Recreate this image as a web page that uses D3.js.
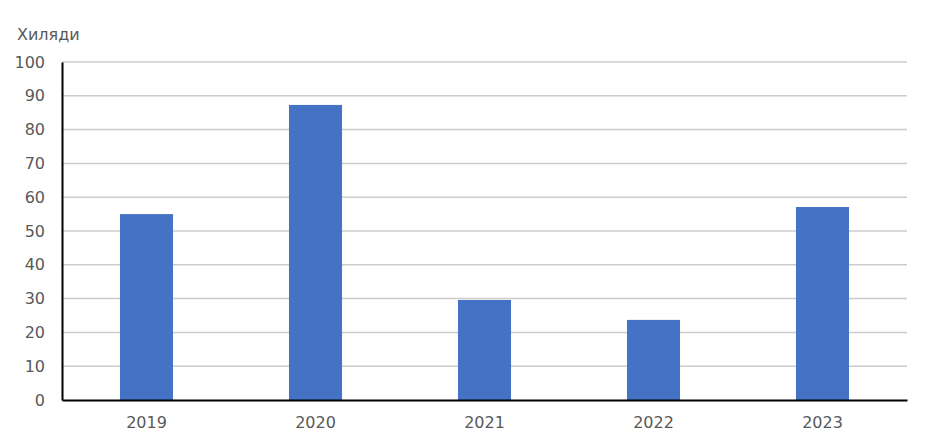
<!DOCTYPE html>
<html>
<head>
<meta charset="utf-8">
<script src="https://cdn.jsdelivr.net/npm/d3@7"></script>
<style>
  body { margin: 0; background: #fff; }
  text { font-family: "DejaVu Sans", Verdana, sans-serif; fill: #595959; }
</style>
</head>
<body>
<div id="chart"></div>
<script>
const years = ['2019', '2020', '2021', '2022', '2023'];
const values = [55.0, 87.3, 29.6, 23.7, 57.1];
const yTicks = [0, 10, 20, 30, 40, 50, 60, 70, 80, 90, 100];
const unitLabel = 'Хиляди';

const width = 930
const height = 445
const plotLeft = 62, plotRight = 907, plotTop = 62, plotBottom = 400

const x = d3.scaleBand().domain(years).range([plotLeft, plotRight])
  .paddingInner(0.686).paddingOuter(0.343);
const y = d3.scaleLinear().domain([0, 100]).range([plotBottom, plotTop]);

const svg = d3.select('#chart').append('svg')
  .attr('width', width)
  .attr('height', height);

// gridlines
svg.append('g')
  .selectAll('line')
  .data(yTicks.filter(d => d > 0))
  .enter().append('line')
  .attr('x1', plotLeft).attr('x2', plotRight)
  .attr('y1', d => y(d)).attr('y2', d => y(d))
  .attr('stroke', '#cccccc')
  .attr('stroke-width', 1.5);

// bars
svg.append('g')
  .selectAll('rect')
  .data(values)
  .enter().append('rect')
  .attr('x', (d, i) => x(years[i]))
  .attr('width', x.bandwidth())
  .attr('y', d => y(d))
  .attr('height', d => plotBottom - y(d))
  .attr('fill', '#4472c4');

// y axis
const yAxis = svg.append('g')
  .attr('transform', `translate(${plotLeft},0)`)
  .call(d3.axisLeft(y).tickValues(yTicks).tickSize(0).tickPadding(17));
yAxis.select('.domain').attr('stroke', '#000').attr('stroke-width', 2);
yAxis.selectAll('text').style('font-size', '16px').attr('fill', '#595959');

// x axis
const xAxis = svg.append('g')
  .attr('transform', `translate(0,${plotBottom})`)
  .call(d3.axisBottom(x).tickSize(0).tickPadding(17));
xAxis.select('.domain').attr('stroke', '#000').attr('stroke-width', 2);
xAxis.selectAll('text').style('font-size', '16px').attr('fill', '#595959');

svg.append('text')
  .attr('x', 17)
  .attr('y', 40)
  .style('font-size', '16px')
  .text(unitLabel);
</script>
</body>
</html>
